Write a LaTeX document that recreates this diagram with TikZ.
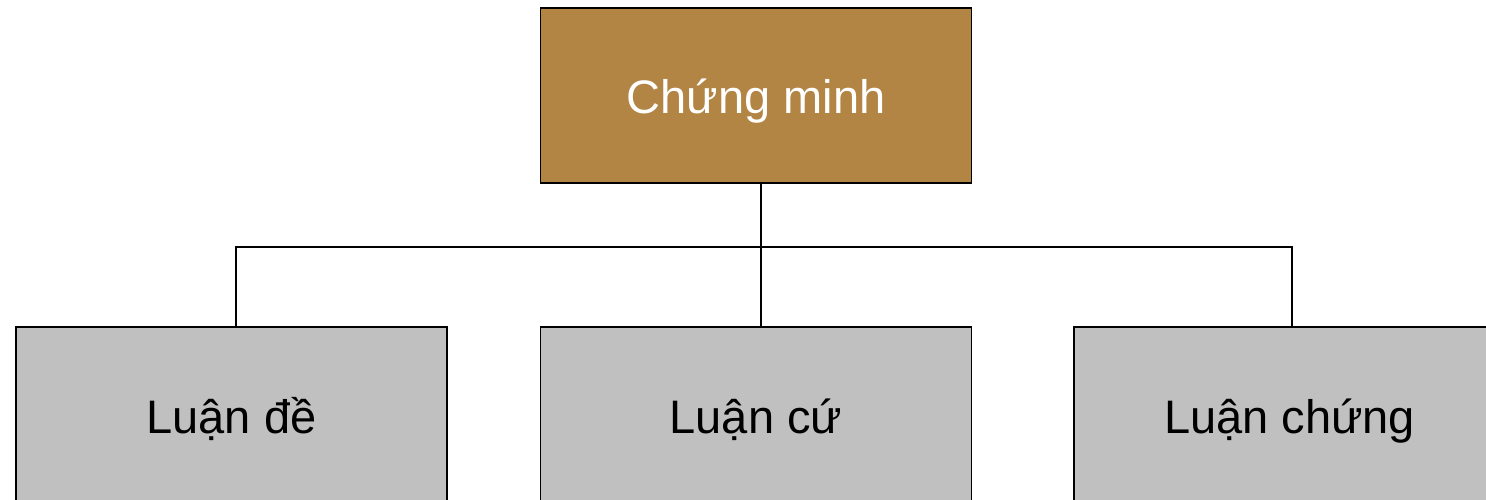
\documentclass[tikz,border=0pt]{standalone}
\usepackage{fontspec}
\setmainfont{Liberation Sans}
\definecolor{topfill}{HTML}{B38544}
\definecolor{boxfill}{HTML}{C0C0C0}
\tikzset{
  box/.style={draw, line width=1.4pt, minimum width=431pt, minimum height=175pt, inner sep=0pt, text height=40pt, text depth=3pt, font=\fontsize{47}{56}\selectfont},
  link/.style={line width=1.4pt}
}
\begin{document}
\begin{tikzpicture}[x=1pt,y=-1pt]
            \useasboundingbox (0,0) rectangle (1486,500);
            \clip (0,0) rectangle (1486,500);
            \node[box, fill=topfill, text=white] (cm) at (756,95.5) {Chứng minh};
            \node[box, fill=boxfill] (de) at (231.5,414.5) {Luận đề};
            \node[box, fill=boxfill] (cu) at (756,414.5) {Luận cứ};
            \node[box, fill=boxfill] (ch) at (1289.5,414.5) {Luận chứng};
            \coordinate (j) at (761,247);
            \draw[link] (cm.south -| j) -- (j);
            \draw[link] (j) -| (de.north -| 236,0);
            \draw[link] (j) -| (ch.north -| 1292,0);
            \draw[link] (j) -- (cu.north -| j);
        \end{tikzpicture}
\end{document}
